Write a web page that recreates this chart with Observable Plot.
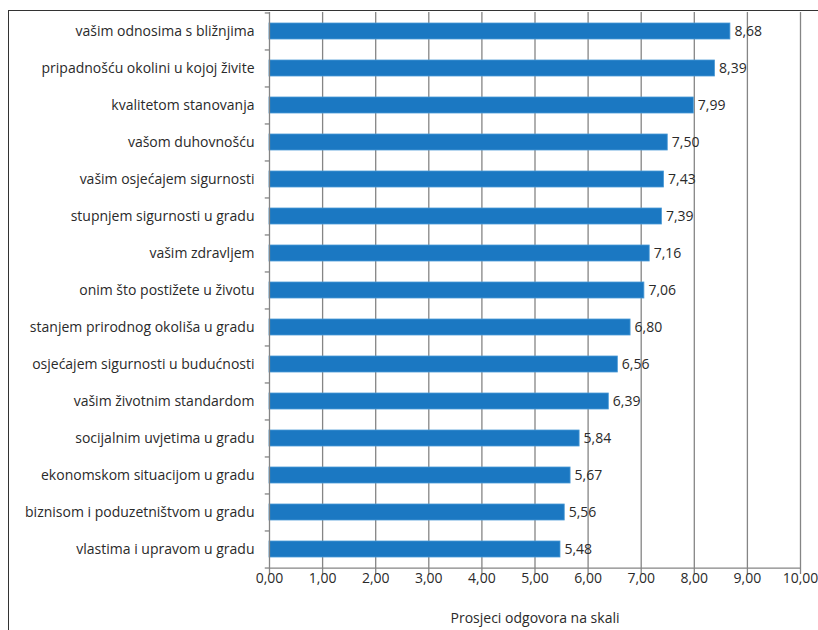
<!DOCTYPE html>
<html>
<head>
<meta charset="utf-8">
<script src="https://cdn.jsdelivr.net/npm/d3@7"></script>
<script src="https://cdn.jsdelivr.net/npm/@observablehq/plot@0.6"></script>
<style>
  html, body { margin: 0; padding: 0; background: #fff; overflow: hidden; }
  #wrap { position: relative; width: 818px; height: 630px; }
  #border { position: absolute; left: 8px; top: 10px; width: 820px; height: 630px;
            border-left: 1px solid #333; border-top: 1px solid #333; box-sizing: border-box; }
  #chart { position: absolute; left: 0; top: 0; }
</style>
</head>
<body>
<div id="wrap"><div id="border"></div><div id="chart"></div></div>
<script>
const categories = [
  "vašim odnosima s bližnjima",
  "pripadnošću okolini u kojoj živite",
  "kvalitetom stanovanja",
  "vašom duhovnošću",
  "vašim osjećajem sigurnosti",
  "stupnjem sigurnosti u gradu",
  "vašim zdravljem",
  "onim što postižete u životu",
  "stanjem prirodnog okoliša u gradu",
  "osjećajem sigurnosti u budućnosti",
  "vašim životnim standardom",
  "socijalnim uvjetima u gradu",
  "ekonomskom situacijom u gradu",
  "biznisom i poduzetništvom u gradu",
  "vlastima i upravom u gradu"
];
const values = [8.68, 8.39, 7.99, 7.50, 7.43, 7.39, 7.16, 7.06, 6.80, 6.56, 6.39, 5.84, 5.67, 5.56, 5.48];
const xTicks = [0,1,2,3,4,5,6,7,8,9,10];
const axisTitle = "Prosjeci odgovora na skali";

const data = categories.map((c, i) => ({category: c, value: values[i]}));
const fmt = d => d.toFixed(2).replace(".", ",");

const W = 818, H = 630, mT = 12, mB = 62, mL = 269, mR = 18;
const step = (H - mT - mB) / categories.length;
const grid = "#858585";

const chart = Plot.plot({
  width: W, height: H,
  marginTop: mT, marginBottom: mB, marginLeft: mL, marginRight: mR,
  style: {fontFamily: "'Open Sans', sans-serif", fontSize: "14px", color: "#2a2a2a", background: "transparent"},
  x: {domain: [0, 10], ticks: xTicks, tickFormat: fmt},
  y: {domain: categories, paddingInner: 0.57, paddingOuter: 0.285, label: null},
  marks: [
    Plot.ruleX(xTicks.slice(1), {stroke: grid, strokeWidth: 1.3}),
    Plot.barX(data, {y: "category", x: "value", fill: "#1b78c2", stroke: "#4a9ad6", strokeWidth: 0.8}),
    Plot.text(data, {y: "category", x: "value", text: d => fmt(d.value), textAnchor: "start", dx: 4, fill: "#2a2a2a", fontSize: 14}),
    Plot.ruleX([0], {stroke: grid, strokeWidth: 1.3}),
    Plot.ruleY([categories[categories.length - 1]], {dy: step / 2, x1: 0, x2: 10, stroke: grid, strokeWidth: 1.3}),
    Plot.ruleY(categories, {y: d => d, dy: -step / 2, x1: -0.08, x2: 0, stroke: grid, strokeWidth: 1.3}),
    Plot.ruleY([categories[categories.length - 1]], {dy: step / 2, x1: -0.08, x2: 0, stroke: grid, strokeWidth: 1.3}),
    Plot.axisX({ticks: xTicks, tickFormat: fmt, tickSize: 6, tickPadding: -1, stroke: grid, strokeWidth: 1.3, label: null, fill: "#2a2a2a", fontSize: 14}),
    Plot.axisY({tickSize: 0, tickPadding: 15, label: null, fill: "#2a2a2a", fontSize: 14}),
    Plot.text([axisTitle], {frameAnchor: "bottom", dy: 54, text: d => d, fill: "#2a2a2a", fontSize: 14})
  ]
});
document.getElementById("chart").appendChild(chart);
</script>
</body>
</html>
